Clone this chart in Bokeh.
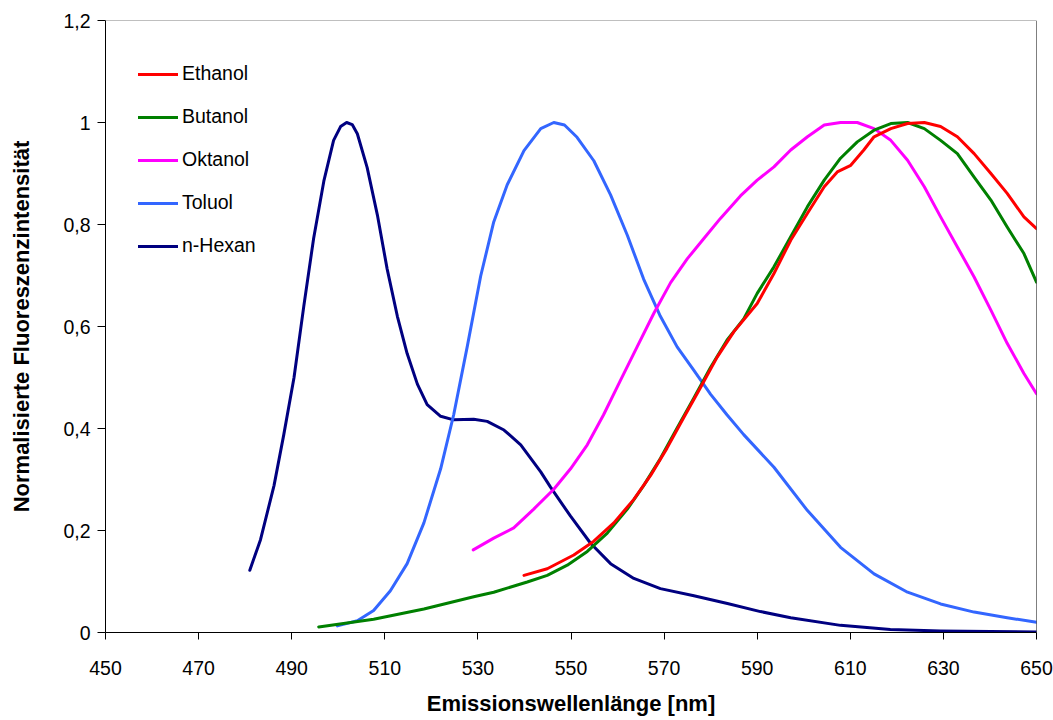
from bokeh.plotting import figure
from bokeh.models import Range1d, FixedTicker, CustomJSTickFormatter, Legend, LegendItem, Span
from bokeh.embed import file_html
from bokeh.resources import INLINE

# ---------------- data ----------------
hexan_x = [481.0, 483.3, 486.2, 488.3, 490.5, 492.6, 494.7, 496.9, 499.0, 500.5, 501.8, 503.0,
           504.1, 506.2, 508.4, 510.5, 512.7, 514.8, 517.0, 519.1, 522.0, 524.8, 529.1, 532.0,
           535.6, 539.2, 543.5, 545.6, 549.9, 554.2, 558.5, 563.5, 569.2, 576.4, 583.6, 590.7,
           597.2, 607.9, 618.6, 629.4, 640.1, 650.0]
hexan_y = [0.122, 0.182, 0.288, 0.388, 0.500, 0.640, 0.772, 0.885, 0.965, 0.992, 1.000, 0.996,
           0.978, 0.912, 0.819, 0.713, 0.620, 0.547, 0.487, 0.447, 0.424, 0.417, 0.418, 0.414,
           0.397, 0.368, 0.315, 0.285, 0.228, 0.175, 0.135, 0.106, 0.086, 0.072, 0.057, 0.041,
           0.029, 0.014, 0.006, 0.003, 0.002, 0.001]

toluol_x = [499.8, 504.1, 507.6, 511.2, 514.8, 518.4, 522.0, 524.8, 527.7, 530.6, 533.4, 536.3,
            539.9, 543.5, 546.3, 548.6, 551.3, 554.9, 558.5, 562.1, 565.6, 569.2, 572.8, 576.4,
            580.0, 583.5, 587.1, 593.6, 600.8, 607.9, 615.1, 622.3, 629.4, 636.6, 643.7, 650.0]
toluol_y = [0.013, 0.023, 0.043, 0.082, 0.135, 0.215, 0.321, 0.427, 0.560, 0.699, 0.805, 0.878,
            0.945, 0.988, 1.000, 0.995, 0.971, 0.925, 0.858, 0.779, 0.693, 0.620, 0.560, 0.514,
            0.467, 0.427, 0.388, 0.324, 0.239, 0.167, 0.115, 0.079, 0.056, 0.040, 0.029, 0.020]

butanol_x = [495.8, 507.6, 518.4, 529.1, 533.4, 540.6, 544.9, 549.2, 553.5, 557.8, 562.1, 565.6,
             569.2, 572.8, 576.4, 580.0, 583.5, 587.1, 590.0, 593.6, 597.2, 600.8, 604.4, 607.9,
             611.5, 615.1, 618.7, 622.3, 625.9, 629.4, 633.0, 636.6, 640.2, 643.7, 647.3, 650.0]
butanol_y = [0.011, 0.026, 0.046, 0.070, 0.079, 0.099, 0.112, 0.132, 0.159, 0.195, 0.242, 0.288,
             0.341, 0.401, 0.460, 0.520, 0.573, 0.615, 0.665, 0.717, 0.776, 0.835, 0.887, 0.930,
             0.962, 0.985, 0.998, 1.000, 0.988, 0.965, 0.939, 0.893, 0.848, 0.795, 0.743, 0.687]

ethanol_x = [539.9, 544.9, 550.6, 554.9, 559.2, 563.5, 567.1, 570.6, 574.2, 577.8, 581.4, 585.0,
             590.0, 593.6, 597.2, 600.8, 604.4, 607.2, 610.1, 612.9, 615.1, 618.7, 622.3, 625.9,
             629.4, 633.0, 636.6, 640.2, 643.7, 647.3, 650.0]
ethanol_y = [0.112, 0.125, 0.152, 0.179, 0.215, 0.261, 0.308, 0.361, 0.421, 0.480, 0.540, 0.590,
             0.645, 0.704, 0.769, 0.822, 0.874, 0.903, 0.916, 0.946, 0.972, 0.988, 0.998, 1.000,
             0.992, 0.972, 0.939, 0.900, 0.861, 0.815, 0.792]

oktanol_x = [529.0, 533.4, 537.7, 542.0, 546.3, 549.9, 553.5, 557.0, 560.6, 564.2, 567.8, 571.4,
             575.0, 578.5, 582.1, 586.4, 590.0, 593.6, 597.2, 600.8, 604.4, 607.9, 611.5, 615.1,
             618.7, 622.3, 625.9, 629.4, 633.0, 636.6, 640.2, 643.7, 647.3, 650.0]
oktanol_y = [0.162, 0.185, 0.205, 0.242, 0.281, 0.321, 0.368, 0.427, 0.494, 0.560, 0.626, 0.686,
             0.733, 0.772, 0.812, 0.856, 0.887, 0.913, 0.946, 0.972, 0.995, 1.000, 1.000, 0.988,
             0.965, 0.926, 0.874, 0.815, 0.756, 0.697, 0.632, 0.567, 0.508, 0.468]

x_ticks = [450, 470, 490, 510, 530, 550, 570, 590, 610, 630, 650]
y_ticks = [0, 0.2, 0.4, 0.6, 0.8, 1.0, 1.2]

series = [
    ("Ethanol", ethanol_x, ethanol_y, "#FF0000"),
    ("Butanol", butanol_x, butanol_y, "#008000"),
    ("Oktanol", oktanol_x, oktanol_y, "#FF00FF"),
    ("Toluol", toluol_x, toluol_y, "#3366FF"),
    ("n-Hexan", hexan_x, hexan_y, "#000080"),
]

FONT = "Liberation Sans"

p = figure(width=1053, height=720, output_backend="svg", toolbar_location=None,
           x_range=Range1d(450, 650), y_range=Range1d(0, 1.2),
           min_border_left=105, min_border_right=17, min_border_top=20, min_border_bottom=88)
p.outline_line_color = None
p.grid.visible = False
p.background_fill_color = "white"
p.border_fill_color = "white"

renderers = {}
for name, xs, ys, col in reversed(series):
    r = p.line(xs, ys, line_color=col, line_width=3, line_join="round", line_cap="round")
    renderers[name] = r

# plot area borders (top grey, right black)
p.add_layout(Span(location=1.2, dimension="width", line_color="#808080", line_width=1))
p.add_layout(Span(location=650, dimension="height", line_color="#000000", line_width=1))

# axes
p.xaxis.ticker = FixedTicker(ticks=x_ticks)
p.yaxis.ticker = FixedTicker(ticks=y_ticks)
p.yaxis.formatter = CustomJSTickFormatter(
    code="return (Math.round(tick*10)/10).toString().replace('.', ',');")

for ax in (p.xaxis[0], p.yaxis[0]):
    ax.axis_line_color = "black"
    ax.axis_line_width = 1
    ax.major_tick_line_color = "black"
    ax.minor_tick_line_color = None
    ax.major_tick_in = 0
    ax.major_label_text_font = FONT
    ax.major_label_text_font_size = "19.5px"
    ax.major_label_text_color = "black"
    ax.axis_label_text_font = FONT
    ax.axis_label_text_font_size = "22px"
    ax.axis_label_text_font_style = "bold"
    ax.axis_label_text_color = "black"

p.xaxis.major_tick_out = 7
p.xaxis.major_label_standoff = 21
p.xaxis.axis_label = "Emissionswellenlänge [nm]"
p.xaxis.axis_label_standoff = 13

p.yaxis.major_tick_out = 8
p.yaxis.major_label_standoff = 7
p.yaxis.axis_label = "Normalisierte Fluoreszenzintensität"
p.yaxis.axis_label_standoff = 26

items = [LegendItem(label=name, renderers=[renderers[name]]) for name, _, _, _ in series]
legend = Legend(items=items, location=(33, 375), orientation="vertical",
                glyph_width=40, glyph_height=20, label_height=20, spacing=20,
                label_standoff=4, padding=0, margin=0,
                label_text_font=FONT, label_text_font_size="19.5px", label_text_color="black",
                border_line_color=None, background_fill_alpha=0)
p.add_layout(legend)

open("out.html", "w").write(file_html(p, INLINE))
